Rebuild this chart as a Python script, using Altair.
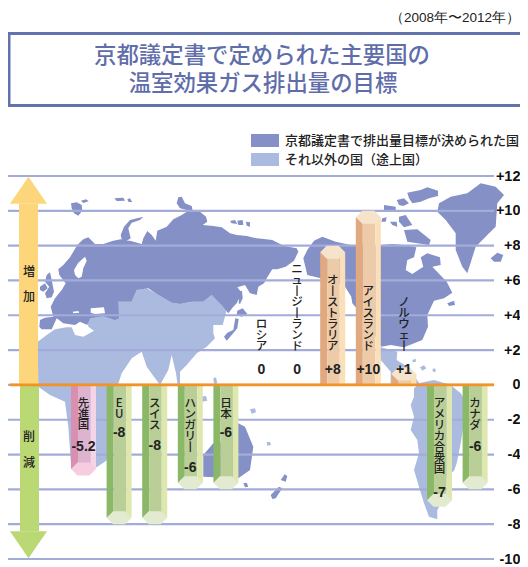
import altair as alt
import pandas as pd

# ---------- chart values ----------
names = ["先進国", "EU", "スイス", "ハンガリー", "日本", "ロシア", "ニュージーランド",
         "オーストラリア", "アイスランド", "ノルウェー", "アメリカ合衆国", "カナダ"]
values = [-5.2, -8, -8, -6, -6, 0, 0, 8, 10, 1, -7, -6]
value_texts = ["-5.2", "-8", "-8", "-6", "-6", "0", "0", "+8", "+10", "+1", "-7", "-6"]
value_label_at = [-3.56, -2.76, -3.5, -4.77, -2.76, 0.86, 0.86, 0.86, 0.86, 0.86, -6.2, -3.56]
ticks = [-10, -8, -6, -4, -2, 0, 2, 4, 6, 8, 10, 12]
arrow_up_top = 10.4
arrow_down_bottom = -8.4
title_lines = ["京都議定書で定められた主要国の", "温室効果ガス排出量の目標"]
period = "（2008年〜2012年）"
legend_labels = ["京都議定書で排出量目標が決められた国", "それ以外の国（途上国）"]
DARK, LIGHT, GRID = "#8490C6", "#ABBADF", "#A3ACD8"
UP = ["#E0A97F", "#EDCBA8", "#FBDFB8", "#F5E3CC"]
DOWN = ["#8BB866", "#B9CF97", "#DDE7AE", "#E2EBCF"]
PINK = ["#D98FB0", "#DDB3D0", "#F5D5E5", "#F8CCE0"]

# ---------- map outlines ----------
C2, C3, C4, C5 = (0, 170), (264, 170), (0, 380), (264, 380)
eurasia = [(C2, [(118,470),(120,450),(135,443),(160,440),(152,410),(165,385),(185,360),(197,340),(178,315),(175,298),(190,285),(210,262),(232,225),(250,208),(265,202),(285,222),(310,222),(340,212),(362,208),(390,212),(425,222),(430,205),(442,183),(455,195),(467,212),(472,182),(500,170),(520,148),(545,135),(565,122),(600,125),(618,140),(622,155),(608,165),(640,168),(665,172),(690,190),(710,195),(740,198),(770,205),(792,207)]),
           (C3, [(25,210),(60,228),(98,235),(103,245),(90,272),(65,290),(40,298),(25,298),(10,322),(0,340)]),
           (C2, [(775,350),(770,375),(750,370),(735,345),(712,352),(725,368),(710,400),(700,410),(685,430),(665,405),(635,375),(610,395),(575,395),(540,402),(515,398),(470,372),(445,355),(410,360),(395,395),(355,395),(357,445),(345,450),(310,438),(270,445),(262,465),(240,455),(225,465),(205,462),(190,460),(170,445),(155,478),(125,478)])]
asia_africa = [(C2, [(113,515),(140,495),(165,478),(200,472),(215,472),(225,495),(250,500),(282,482),(265,470),(262,445),(300,436),(350,436),(355,395),(395,395),(410,360),(440,355),(470,372),(515,398),(540,402),(575,395),(610,395),(635,375),(665,400),(680,420),(668,465),(640,465),(640,490),(645,505),(620,530),(590,550),(560,585),(540,605),(540,640),(560,660),(535,660),(528,610),(515,555),(505,600),(480,645),(440,590),(425,545),(395,565),(365,610),(352,650)]),
               (C4, [(350,100),(322,240),(290,262),(213,255),(205,140),(195,65),(150,45),(115,20)])]
dark_shapes = [
    [(C2, [(140,315),(150,307),(155,330),(162,365),(155,382),(140,385),(135,370),(148,350),(135,335)])],
    [(C2, [(120,350),(135,340),(143,355),(130,365),(120,360)])],
    [(C2, [(213,100),(230,97),(245,105),(247,122),(235,137),(222,130),(215,115)])],
    [(C2, [(243,92),(258,88),(266,94),(250,99)])],
    [(C2, [(343,85),(370,83),(375,92),(350,93)])],
    [(C2, [(382,88),(390,85),(397,97),(385,95)])],
    [(C2, [(362,195),(372,170),(390,150),(430,140),(420,150),(395,158),(385,175),(392,205),(380,212),(365,208)])],
    [(C2, [(530,100),(535,82),(545,80),(555,100),(575,108),(578,122),(560,120),(540,115)])],
    [(C2, [(690,153),(705,150),(712,162),(695,160)])],
    [(C2, [(712,152),(728,150),(730,165),(715,165)])],
    [(C2, [(738,155),(750,157),(750,170),(740,167)])],
    [(C2, [(712,422),(728,415),(742,432),(725,440),(710,435)])],
    [(C2, [(706,445),(716,447),(712,475),(695,495),(680,512),(672,500),(682,488),(700,480)])],
    [(C2, [(718,365),(726,362),(728,385),(720,402),(716,400)])],
    [(C3, [(118,265),(130,240),(150,212),(175,200),(215,215),(260,225),(352,225),(385,222),(420,225),(457,232),(450,262),(430,270),(425,300),(445,312),(478,290),(470,262),(490,250),(528,262),(530,285),(505,290),(548,335),(565,368),(540,385),(510,392),(490,435),(492,470),(475,510),(445,522),(420,532),(380,525),(352,530),(300,440),(265,400),(262,380),(240,345),(170,325),(130,315)])],
    [(C3, [(430,68),(470,60),(490,52),(522,62),(522,78),(495,85),(470,95),(445,100),(435,85)])],
    [(C3, [(398,90),(420,85),(435,100),(418,108),(405,105)])],
    [(C3, [(360,105),(395,110),(395,122),(370,125),(360,120)])],
    [(C3, [(355,145),(368,142),(365,155),(352,155)])],
    [(C3, [(378,155),(398,155),(400,170),(385,165)])],
    [(C3, [(405,140),(425,135),(445,165),(420,172),(405,155)])],
    [(C3, [(420,180),(460,178),(500,210),(495,225),(460,220),(430,215)])],
    [(C3, [(525,100),(560,80),(610,70),(650,40),(695,50),(720,75),(700,100),(695,170),(675,190),(635,230),(610,310),(595,290),(575,240),(575,190),(545,150),(520,125)])],
    [(C3, [(680,265),(700,248),(718,255),(710,275),(690,275)])],
    [(C3, [(550,400),(570,392),(573,405),(555,408)])],
    [(C4, [(610,225),(640,190),(660,190),(715,130),(735,140),(760,200),(750,270),(715,295),(610,290)])],
    [(C4, [(730,310),(740,308),(745,320),(735,322)])],
    [(C5, [(50,300),(62,283),(70,288),(65,305)])],
    [(C5, [(20,345),(45,320),(55,325),(35,355),(25,357)])],
]
light_shapes = [
    [(C2, [(242,330),(265,320),(290,318),(312,335),(312,350),(285,358),(255,357),(243,345)])],
    [(C3, [(345,530),(400,545),(398,570),(430,590),(470,645),(380,645),(380,605),(350,570)])],
    [(C5, [(450,25),(470,8),(510,0),(560,15),(590,40),(610,70),(590,190),(578,250),(570,272),(548,290),(545,345),(520,390),(520,418),(495,410),(480,370),(465,320),(450,270),(465,220),(460,180),(440,150),(450,110),(440,75),(450,50)])],
    [(C3, [(445,570),(455,566),(456,575),(447,577)])],
    [(C3, [(468,592),(480,586),(487,595),(475,602)])],
    [(C3, [(505,598),(513,595),(516,604),(508,607)])],
    [(C2, [(640,625),(648,622),(652,640),(642,642)])],
    [(C4, [(600,50),(618,48),(622,62),(605,65)])],
    [(C4, [(750,88),(765,85),(768,97),(755,101)])],
    [(C5, [(8,186),(18,186),(21,195),(10,197)])],
]
white_shapes = [
    [(C2, [(222,300),(235,278),(255,260),(260,272),(250,295),(245,320),(235,325),(225,315)])],
    [(C2, [(218,425),(235,423),(238,428),(220,430)])],
    [(C2, [(272,415),(312,412),(315,430),(285,432),(272,428)])],
]

OX, OY = 8, 176
def px(x): return x - OX
def py(y): return y - OY

def to_path(parts):
    out = []
    for (cx, cy), pts in parts:
        out += [(cx + a / 3 - OX, cy + b / 3 - OY) for a, b in pts]
    return "M" + "L".join(f"{a:.1f},{b:.1f}" for a, b in out) + "Z"

def shape_layer(parts_list, color):
    d = " ".join(to_path(p) for p in parts_list)
    return alt.Chart(pd.DataFrame({"a": [0]})).mark_point(
        shape=d, size=4, filled=True, fill=color, strokeWidth=0, opacity=1
    ).encode(x=alt.value(0), y=alt.value(0))

# ---------- scales ----------
W, H = 486, 383
PER_UNIT = H / 22
xs = alt.Scale(domain=[-2.121, 11.531], nice=False, zero=False)
ys = alt.Scale(domain=[-10, 12], nice=False, zero=False)
y_axis = alt.Axis(
    orient="right", values=ticks, title=None, domain=False, ticks=False, grid=False,
    labelPadding=26, labelAlign="right", labelFont="Liberation Sans", labelFontSize=14.5,
    labelFontWeight="bold", labelColor="#111111", labelFlush=False, labelBound=False,
    labelOverlap=False,
    labelExpr="datum.value > 0 ? '+' + datum.value : '' + datum.value")
X = lambda f: alt.X(f, type="quantitative", scale=xs, axis=None)
Y = lambda f: alt.Y(f, type="quantitative", scale=ys, axis=y_axis)

# ---------- tables ----------
cap_units = 6.5 / PER_UNIT
LINE = 11
face_rows, cap_rows, name_rows = [], [], []
for i, (n, v) in enumerate(zip(names, values)):
    pal = PINK if n == "先進国" else (UP if v > 0 else DOWN)
    if v != 0:
        s = 1 if v > 0 else -1
        end = v - s * cap_units
        for lo, hi, c in [(-.351, -.155, pal[0]), (-.155, .197, pal[1]), (.197, .351, pal[2])]:
            face_rows.append({"a": i + lo, "b": i + hi, "y0": 0, "y1": end, "c": c})
        cap_rows.append({"i": i, "y": end, "c": pal[3]})
    label = "\n".join(n.replace("ー", "丨"))
    top = -0.75 if v < 0 else 1.9 + len(n) * LINE / PER_UNIT
    name_rows.append({"i": i, "t": label, "y": top,
                      "val": value_texts[i], "vy": value_label_at[i]})
faces = pd.DataFrame(face_rows)
caps = pd.DataFrame(cap_rows)
labels = pd.DataFrame(name_rows)
gridrows = pd.DataFrame({"v": ticks})

# ---------- layers ----------
one = pd.DataFrame({"a": [0]})
BODY = "Noto Sans CJK JP"
hexagon = "M-12.5,0L-6,-6.5L6,-6.5L12.5,0L6,6.5L-6,6.5Z"
tri_up = "M0,-27L18.5,0L-18.5,0Z"
tri_down = "M0,27L18.5,0L-18.5,0Z"

def text_at(t, x, y, **kw):
    return alt.Chart(one).mark_text(**kw).encode(x=alt.value(px(x)), y=alt.value(py(y)), text=alt.value(t))

def box(x0, x1, y0, y1, **kw):
    return alt.Chart(one).mark_rect(**kw).encode(
        x=alt.value(px(x0)), x2=alt.value(px(x1)), y=alt.value(py(y0)), y2=alt.value(py(y1)))

grid = alt.Chart(gridrows).mark_rule(color=GRID, strokeWidth=2.2).encode(y=Y("v"))

bars = alt.Chart(faces).mark_rect().encode(
    x=X("a"), x2=alt.X2("b"), y=Y("y0"), y2=alt.Y2("y1"),
    fill=alt.Fill("c:N", scale=None))
capm = alt.Chart(caps).mark_point(shape=hexagon, size=4, filled=True, opacity=1, strokeWidth=0).encode(
    x=X("i"), y=Y("y"), fill=alt.Fill("c:N", scale=None))

names_text = alt.Chart(labels).mark_text(
    font=BODY, fontSize=11.5, fontWeight=500, lineHeight=LINE, lineBreak="\n", baseline="top", color="#222222"
).encode(x=X("i"), y=Y("y"), text="t:N")
val_text = alt.Chart(labels).mark_text(
    font="Liberation Sans", fontSize=14, fontWeight="bold", color="#222222"
).encode(x=X("i"), y=Y("vy"), text="val:N")

arrow_df = pd.DataFrame({"up": [arrow_up_top], "down": [arrow_down_bottom], "z": [0]})
up_shaft = alt.Chart(arrow_df).mark_rect(color="#FDD67B").encode(
    x=alt.value(px(19)), x2=alt.value(px(38)), y=Y("z"), y2=alt.Y2("up"))
up_head = alt.Chart(arrow_df).mark_point(shape=tri_up, size=4, filled=True, fill="#FDD67B", opacity=1, strokeWidth=0).encode(
    x=alt.value(px(28.5)), y=Y("up"))
down_shaft = alt.Chart(arrow_df).mark_rect(color="#BAD873").encode(
    x=alt.value(px(20)), x2=alt.value(px(39)), y=Y("z"), y2=alt.Y2("down"))
down_head = alt.Chart(arrow_df).mark_point(shape=tri_down, size=4, filled=True, fill="#BAD873", opacity=1, strokeWidth=0).encode(
    x=alt.value(px(28.5)), y=Y("down"))

zero = alt.Chart(pd.DataFrame({"v": [0]})).mark_rule(color="#F39325", strokeWidth=2.6).encode(
    y=Y("v"), x=alt.value(px(10)), x2=alt.value(px(494)))

cjk = dict(font=BODY, fontWeight=500, color="#222222", baseline="middle")
decor = [
    box(9, 540, 33.5, 105.5, filled=False, stroke="#6272AD", strokeWidth=3),
    text_at(title_lines[0], 262, 56, font=BODY, fontWeight=500, fontSize=22.4, color="#5F6EAA", align="center", baseline="middle"),
    text_at(title_lines[1], 263, 84, font=BODY, fontWeight=500, fontSize=22.4, color="#5F6EAA", align="center", baseline="middle"),
    text_at(period, 520, 18, font="Liberation Sans", fontSize=13.5, color="#222222", align="right", baseline="middle"),
    box(251, 279, 134, 147, fill=DARK),
    box(251, 279, 153, 166, fill=LIGHT),
    text_at(legend_labels[0], 285, 141, fontSize=13, align="left", **cjk),
    text_at(legend_labels[1], 285, 160, fontSize=13, align="left", **cjk),
    text_at("増", 29, 272, fontSize=12, align="center", **cjk),
    text_at("加", 29, 297, fontSize=12, align="center", **cjk),
    text_at("削", 29, 437, fontSize=12, align="center", **cjk),
    text_at("減", 29, 463, fontSize=12, align="center", **cjk),
]

chart = alt.layer(
    shape_layer([asia_africa] + light_shapes, LIGHT),
    shape_layer([eurasia] + dark_shapes, DARK),
    shape_layer(white_shapes, "#FFFFFF"),
    grid, bars, capm, up_shaft, up_head, down_shaft, down_head, zero,
    names_text, val_text, *decor
).properties(
    width=W, height=H,
    autosize=alt.AutoSizeParams(type="none"),
    padding={"left": 0, "top": 168, "right": 26, "bottom": 7},
).configure(background="#FFFFFF", view=alt.ViewConfig(stroke=None))

chart.save("out.html", embed_options={"renderer": "svg", "actions": False})
